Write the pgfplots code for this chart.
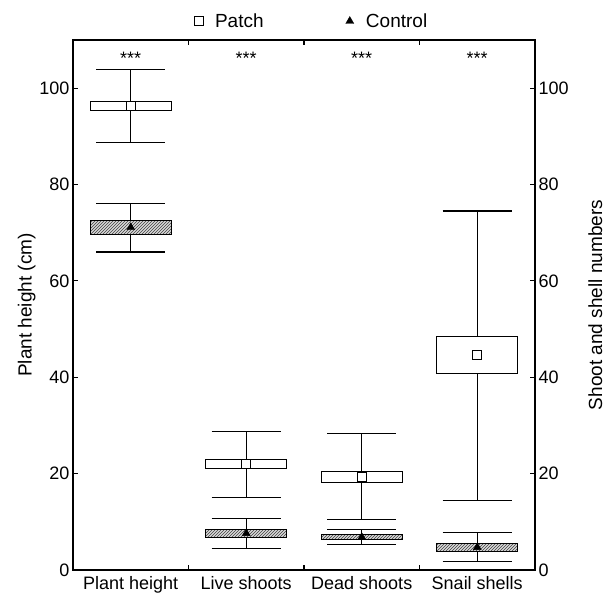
\documentclass[border=0pt]{standalone}
\usepackage{fontspec}
\setmainfont{Liberation Sans}
\usepackage{pgfplots}
\pgfplotsset{compat=1.18}
\usepgfplotslibrary{statistics}
\usetikzlibrary{patterns}

\pgfplotsset{
  base/.style={
    at={(0,0)}, anchor=south west,
    scale only axis, width=462pt, height=530pt,
    xmin=-0.5, xmax=3.5, ymin=0, ymax=110,
    ytick={0,20,...,100},
    tick align=inside, major tick length=5pt,
    axis line style={line width=1.1pt},
    every tick/.style={black, line width=1.1pt},
    tick label style={font=\fontsize{18}{20}\selectfont},
    label style={font=\fontsize{19}{21}\selectfont},
    /pgf/number format/assume math mode=true,
  },
  legimg/.style={legend image code/.code={\path (-6pt,0pt) (14pt,0pt); \draw[##1] plot coordinates {(0pt,0pt)};}},
}

\begin{document}
\begin{tikzpicture}
\path[use as bounding box] (-73pt,-28pt) rectangle (532pt,570pt);
\begin{axis}[
  base,
  xtick={0.5,1.5,2.5}, xticklabels={},
  extra x ticks={0,1,2,3},
  extra x tick labels={Plant height, Live shoots, Dead shoots, Snail shells},
  extra x tick style={major tick length=0pt},
  xticklabel shift=3pt,
  ytick pos=left,
  ylabel={Plant height (cm)},
  ylabel shift=-3pt,
  boxplot/draw direction=y,
  legend columns=2,
  legend style={at={(0.515,1)}, anchor=south, yshift=7pt, draw=none, fill=none,
    font=\fontsize{19}{21}\selectfont,
    /tikz/every even column/.append style={column sep=78pt}},
]
\pgfplotsset{
  patchbox/.style={forget plot, black, line width=1.1pt,
    boxplot/every box/.style={fill=white},
    boxplot/every median/.style={draw=none},
    boxplot/box extend=0.7, boxplot/whisker extend=0.6},
  ctrlbox/.style={forget plot, black, line width=1.1pt,
    boxplot/every box/.style={fill=gray!30, postaction={pattern=north east lines, pattern color=black!75}},
    boxplot/every median/.style={draw=none},
    boxplot/box extend=0.7, boxplot/whisker extend=0.6},
}
% Patch boxes
\addplot[patchbox, boxplot prepared={lower whisker=88.7, lower quartile=95.4, median=96.3, upper quartile=97.3, upper whisker=103.9, draw position=0}] coordinates {};
\addplot[patchbox, boxplot prepared={lower whisker=15.1, lower quartile=21.1, median=22.0, upper quartile=23.0, upper whisker=28.8, draw position=1}] coordinates {};
\addplot[patchbox, boxplot prepared={lower whisker=10.5, lower quartile=18.1, median=19.3, upper quartile=20.5, upper whisker=28.4, draw position=2}] coordinates {};
\addplot[patchbox, boxplot prepared={lower whisker=14.5, lower quartile=40.8, median=44.6, upper quartile=48.4, upper whisker=74.5, draw position=3}] coordinates {};
% Control boxes
\addplot[ctrlbox, boxplot prepared={lower whisker=66.0, lower quartile=69.6, median=71.1, upper quartile=72.5, upper whisker=76.1, draw position=0}] coordinates {};
\addplot[ctrlbox, boxplot prepared={lower whisker=4.5, lower quartile=6.7, median=7.6, upper quartile=8.4, upper whisker=10.6, draw position=1}] coordinates {};
\addplot[ctrlbox, boxplot prepared={lower whisker=5.3, lower quartile=6.4, median=6.8, upper quartile=7.3, upper whisker=8.4, draw position=2}] coordinates {};
\addplot[ctrlbox, boxplot prepared={lower whisker=1.7, lower quartile=3.9, median=4.7, upper quartile=5.5, upper whisker=7.8, draw position=3}] coordinates {};
% Means
\addplot[legimg, only marks, mark=square*, mark size=4.3pt, mark options={fill=white, draw=black, line width=1pt}]
  coordinates {(0,96.3) (1,22.0) (2,19.3) (3,44.6)};
\addlegendentry{Patch}
\addplot[legimg, only marks, mark=triangle*, mark size=4.6pt, mark options={fill=black, draw=black}]
  coordinates {(0,71.1) (1,7.6) (2,6.8) (3,4.7)};
\addlegendentry{Control}
% significance
\foreach \xx in {0,1,2,3} {
  \edef\tmp{\noexpand\node[anchor=base, inner sep=0pt, font=\noexpand\fontsize{18}{18}\noexpand\selectfont] at (axis cs:\xx,104.9) {***};}
  \tmp
}
\end{axis}
\begin{axis}[
  base,
  hide x axis,
  ytick pos=right, yticklabel pos=right,
  ylabel={Shoot and shell numbers},
  ylabel shift=13pt,
]
\addplot[draw=none] coordinates {(0,0)};
\end{axis}
\end{tikzpicture}
\end{document}
